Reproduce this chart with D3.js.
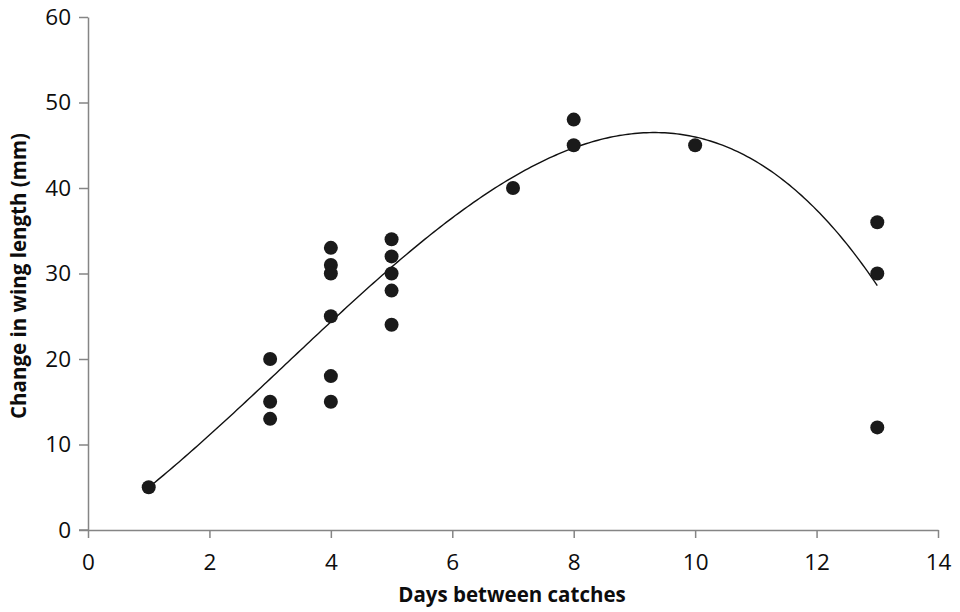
<!DOCTYPE html>
<html>
<head>
<meta charset="utf-8">
<script src="https://cdn.jsdelivr.net/npm/d3@7"></script>
<style>
  body { margin: 0; background: #fff; }
  svg text { font-family: "Open Sans", "Liberation Sans", sans-serif; fill: #0d0d0d; }
</style>
</head>
<body>
<svg id="chart" width="960" height="612"></svg>
<script>
// days between catches / change in wing length (mm)
var days   = [1, 3, 3, 3, 4, 4, 4, 4, 4, 4, 5, 5, 5, 5, 5, 7, 8, 8, 10, 13, 13, 13];
var change = [5, 20, 15, 13, 33, 31, 30, 25, 18, 15, 34, 32, 30, 28, 24, 40, 48, 45, 45, 36, 30, 12];
// polynomial trendline at whole days
var trendDays  = [1, 2, 3, 4, 5, 6, 7, 8, 9, 10, 11, 12, 13];
var trendValue = [5, 11.1, 17.5, 24.6, 30.7, 36.5, 41.2, 44.8, 46.4, 45.7, 43.1, 37.8, 28.4];
var xTicks = [0, 2, 4, 6, 8, 10, 12, 14];
var yTicks = [0, 10, 20, 30, 40, 50, 60];

var svg = d3.select("#chart");
var margin = {top: 17, right: 22, bottom: 82, left: 88},
    width = +svg.attr("width") - margin.left - margin.right,
    height = +svg.attr("height") - margin.top - margin.bottom;

var x = d3.scaleLinear().domain([0, 14]).range([0, width]);
var y = d3.scaleLinear().domain([0, 60]).range([height, 0]);

var g = svg.append("g").attr("transform", "translate(" + margin.left + "," + margin.top + ")");

// smooth the read trendline with a cubic least squares fit (it is a cubic trendline)
function polyFit(xs, ys, order) {
	var n = order + 1, A = [], i, j, k;
	for (i = 0; i < n; i++) {
		A.push([]);
		for (j = 0; j < n; j++) A[i].push(d3.sum(xs, function(v) { return Math.pow(v, i + j); }));
		A[i].push(d3.sum(xs, function(v, idx) { return Math.pow(v, i) * ys[idx]; }));
	}
	for (i = 0; i < n; i++) {
		var p = i;
		for (k = i + 1; k < n; k++) if (Math.abs(A[k][i]) > Math.abs(A[p][i])) p = k;
		var t = A[i]; A[i] = A[p]; A[p] = t;
		for (k = i + 1; k < n; k++) {
			var f = A[k][i] / A[i][i];
			for (j = i; j <= n; j++) A[k][j] -= f * A[i][j];
		}
	}
	var c = new Array(n);
	for (i = n - 1; i >= 0; i--) {
		var s = A[i][n];
		for (j = i + 1; j < n; j++) s -= A[i][j] * c[j];
		c[i] = s / A[i][i];
	}
	return c;
}
var coef = polyFit(trendDays, trendValue, 3);
var fit = function(v) { return coef[0] + v * (coef[1] + v * (coef[2] + v * coef[3])); };
var curve = d3.range(1, 13.001, 0.05);

// axes
var axisColor = "#858585";
var xAxis = g.append("g").attr("transform", "translate(0," + height + ")")
	.call(d3.axisBottom(x).tickValues(xTicks).tickSize(8).tickPadding(16).tickSizeOuter(0));
var yAxis = g.append("g")
	.call(d3.axisLeft(y).tickValues(yTicks).tickSize(9).tickPadding(8).tickSizeOuter(0));
[xAxis, yAxis].forEach(function(a) {
	a.attr("font-size", 22.5);
	a.select(".domain").attr("stroke", axisColor).attr("stroke-width", 1.5);
	a.selectAll(".tick line").attr("stroke", axisColor).attr("stroke-width", 1.5);
	a.selectAll(".tick text").style("font-size", "22.5px").attr("fill", "#0d0d0d");
});
// x axis line reaches back to the y tick marks
g.append("line").attr("x1", -9).attr("x2", 0).attr("y1", height).attr("y2", height)
	.attr("stroke", axisColor).attr("stroke-width", 1.5);

g.append("path").datum(curve)
	.attr("fill", "none").attr("stroke", "#111").attr("stroke-width", 1.4)
	.attr("d", d3.line().x(function(d) { return x(d); }).y(function(d) { return y(fit(d)); }));

g.selectAll(".dot").data(days).enter().append("circle")
	.attr("class", "dot")
	.attr("cx", function(d) { return x(d); })
	.attr("cy", function(d, i) { return y(change[i]); })
	.attr("r", 7).attr("fill", "#1a1a1a");

svg.append("text").attr("x", margin.left + width / 2 - 1).attr("y", 602)
	.attr("text-anchor", "middle").style("font-size", "20.5px").style("font-weight", "bold")
	.text("Days between catches");
svg.append("text").attr("transform", "translate(26," + 276 + ") rotate(-90)")
	.attr("text-anchor", "middle").style("font-size", "20.5px").style("font-weight", "bold")
	.text("Change in wing length (mm)");
</script>
</body>
</html>
